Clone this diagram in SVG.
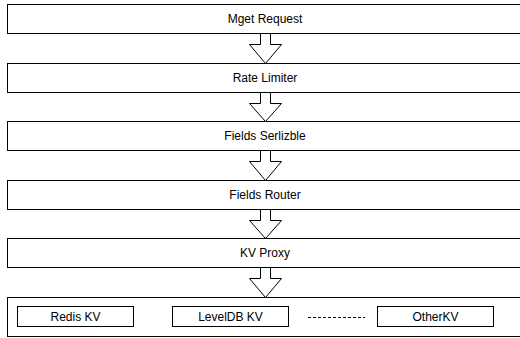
<svg xmlns="http://www.w3.org/2000/svg" width="520" height="338" viewBox="0 0 520 338">
<style>
.box{fill:#fff;stroke:#000;stroke-width:1}
.arr{fill:#fff;stroke:#000;stroke-width:1;stroke-linejoin:miter}
text{font-family:"Liberation Sans",Arial,sans-serif;font-size:12px;fill:#000;text-anchor:middle}
</style>
<rect width="520" height="338" fill="#fff"/>
<g id="mget"><rect class="box" x="7.5" y="4.5" width="520" height="29"/><text x="265" y="23">Mget Request</text></g>
<g id="rate"><rect class="box" x="7.5" y="63.5" width="520" height="29"/><text x="265" y="82">Rate Limiter</text></g>
<g id="fields-ser"><rect class="box" x="7.5" y="121.5" width="520" height="29"/><text x="265" y="140">Fields Serlizble</text></g>
<g id="fields-router"><rect class="box" x="7.5" y="180.5" width="520" height="29"/><text x="265" y="199">Fields Router</text></g>
<g id="kvproxy"><rect class="box" x="7.5" y="238.5" width="520" height="29"/><text x="265" y="257">KV Proxy</text></g>
<g id="storage"><rect class="box" x="7.5" y="297.5" width="520" height="39"/>
<g id="redis"><rect class="box" x="17.5" y="306.5" width="116" height="20"/><text x="75.5" y="321">Redis KV</text></g>
<g id="leveldb"><rect class="box" x="172.5" y="306.5" width="116" height="20"/><text x="230.5" y="321">LevelDB KV</text></g>
<g id="other"><rect class="box" x="377.5" y="306.5" width="116" height="20"/><text x="435.5" y="321">OtherKV</text></g>
<line x1="308" y1="317.5" x2="365" y2="317.5" stroke="#000" stroke-width="1" stroke-dasharray="3,2"/>
</g>
<g id="connectors">
<path class="arr" d="M260.5 33.5 H270.5 V44.5 H281.5 L265.5 63.5 L249.5 44.5 H260.5 Z"/>
<path class="arr" d="M260.5 92.5 H270.5 V103.5 H281.5 L265.5 121.5 L249.5 103.5 H260.5 Z"/>
<path class="arr" d="M260.5 150.5 H270.5 V161.5 H281.5 L265.5 180.5 L249.5 161.5 H260.5 Z"/>
<path class="arr" d="M260.5 209.5 H270.5 V220.5 H281.5 L265.5 238.5 L249.5 220.5 H260.5 Z"/>
<path class="arr" d="M260.5 267.5 H270.5 V278.5 H281.5 L265.5 297.5 L249.5 278.5 H260.5 Z"/>
</g>
</svg>
